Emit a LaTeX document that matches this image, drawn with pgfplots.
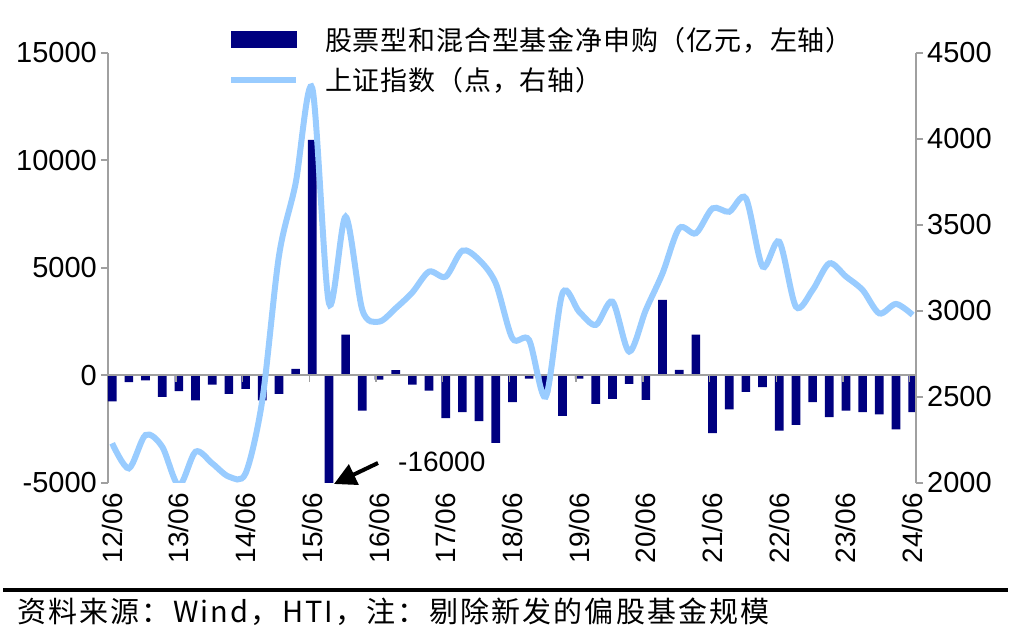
\documentclass[border=0pt]{standalone}
\usepackage{pgfplots}
\usepackage{pgfplotstable}
\pgfplotsset{compat=1.18}
\usepackage{fontspec}
\setmainfont{Liberation Sans}
\newfontfamily\cjk{Noto Sans CJK SC}
\newfontfamily\cjklegend[LetterSpace=3]{Noto Sans CJK SC}
\newfontfamily\cjkfoot[LetterSpace=7.5]{Noto Sans CJK SC}
\usetikzlibrary{arrows.meta}
\definecolor{navybar}{RGB}{0,0,128}
\definecolor{lineblue}{RGB}{153,204,255}
\definecolor{axgray}{RGB}{160,160,160}

\pgfplotstableread{
q v
0 -1200
1 -310
2 -230
3 -1000
4 -730
5 -1160
6 -420
7 -850
8 -620
9 -1160
10 -850
11 310
12 10960
13 -16000
14 1900
15 -1630
16 -190
17 250
18 -430
19 -700
20 -1980
21 -1700
22 -2120
23 -3130
24 -1240
25 -150
26 -800
27 -1880
28 -150
29 -1320
30 -1090
31 -390
32 -1130
33 3520
34 260
35 1900
36 -2680
37 -1570
38 -760
39 -540
40 -2560
41 -2300
42 -1240
43 -1940
44 -1630
45 -1700
46 -1810
47 -2510
48 -1700
}\barsdata

\pgfplotstableread{
q v
0 2231
1 2085
2 2279
3 2211
4 1985
5 2182
6 2114
7 2037
8 2056
9 2480
10 3320
11 3742
12 4295
13 3045
14 3548
15 3006
16 2938
17 3016
18 3108
19 3229
20 3200
21 3351
22 3297
23 3161
24 2841
25 2831
26 2502
27 3103
28 2996
29 2919
30 3054
31 2764
32 3006
33 3219
34 3481
35 3452
36 3597
37 3577
38 3655
39 3258
40 3403
41 3025
42 3122
43 3277
44 3200
45 3122
46 2986
47 3041
48 2977
}\indexdata

\begin{document}
\begin{tikzpicture}
\useasboundingbox (-108pt,-161pt) rectangle (903pt,483pt);
\begin{axis}[
  at={(0pt,0pt)}, anchor=south west,
  scale only axis, width=808pt, height=430pt,
  xmin=-0.25, xmax=48.2, ymin=-5000, ymax=15000,
  axis y line*=left, axis x line*=bottom,
  x axis line style={draw=none},
  y axis line style={axgray, line width=2pt, -},
  xtick={0,4,...,48},
  xticklabels={12/06,13/06,14/06,15/06,16/06,17/06,18/06,19/06,20/06,21/06,22/06,23/06,24/06},
  xtick style={draw=none},
  ytick={-5000,0,5000,10000,15000},
  ytick style={axgray, line width=2pt},
  tick align=outside, major tick length=7pt,
  /pgf/number format/assume math mode=true,
  /pgf/number format/1000 sep={},
  scaled y ticks=false,
  tick label style={font=\fontsize{29}{31}\selectfont},
  yticklabel style={inner xsep=4pt},
  xticklabel style={rotate=90, anchor=east, inner sep=3pt, font=\fontsize{28}{30}\selectfont},
]
\addplot[ybar, bar width=0.52, fill=navybar, draw=none] table[x=q,y=v] {\barsdata};
\draw[axgray, line width=2pt] (axis cs:-0.25,0) -- (axis cs:48.2,0);
\pgfplotsinvokeforeach{4,8,...,48}{\draw[axgray,line width=1.5pt] ([xshift=-3pt]axis cs:#1,0) -- ++(0pt,-7pt);}
\end{axis}
\begin{axis}[
  at={(0pt,0pt)}, anchor=south west,
  scale only axis, width=808pt, height=430pt,
  xmin=-0.25, xmax=48.2, ymin=2000, ymax=4500,
  axis y line*=right, axis x line=none,
  y axis line style={axgray, line width=2pt, -},
  ytick={2000,2500,3000,3500,4000,4500},
  ytick style={axgray, line width=2pt},
  tick align=outside, major tick length=7pt,
  /pgf/number format/assume math mode=true,
  /pgf/number format/1000 sep={},
  scaled y ticks=false,
  tick label style={font=\fontsize{29}{31}\selectfont},
  yticklabel style={inner xsep=4pt},
  legend style={draw=none, fill=none, at={(0.1485,1.065)}, anchor=north west,
    font=\cjklegend\fontsize{27}{30}\selectfont, row sep=12pt, inner sep=0pt,
    cells={anchor=west},
    /tikz/every odd column/.append style={column sep=24pt}},
  legend cell align=left,
]
\addlegendimage{legend image code/.code={\fill[navybar] (0pt,-8pt) rectangle (65pt,8pt);}}
\addlegendentry{股票型和混合型基金净申购（亿元，左轴）}
\addplot[lineblue, line width=6pt, smooth, no marks,
  legend image code/.code={\draw[lineblue,line width=6pt] (0pt,0pt) -- (65pt,0pt);}]
  table[x=q,y=v] {\indexdata};
\addlegendentry{上证指数（点，右轴）}
\end{axis}
\draw[line width=4pt, -{Triangle[length=22pt, width=22pt]}] (270pt,20pt) -- (226pt,-1pt);
\node[anchor=west, font=\fontsize{28}{30}\selectfont, inner sep=0pt] at (290pt,21pt) {-16000};
\draw[black, line width=4pt] (-105pt,-107pt) -- (900pt,-107pt);
\node[anchor=west, inner sep=0pt, font=\cjkfoot\fontsize{29}{31}\selectfont] at (-91pt,-129pt) {资料来源：Wind，HTI，注：剔除新发的偏股基金规模};
\end{tikzpicture}
\end{document}
